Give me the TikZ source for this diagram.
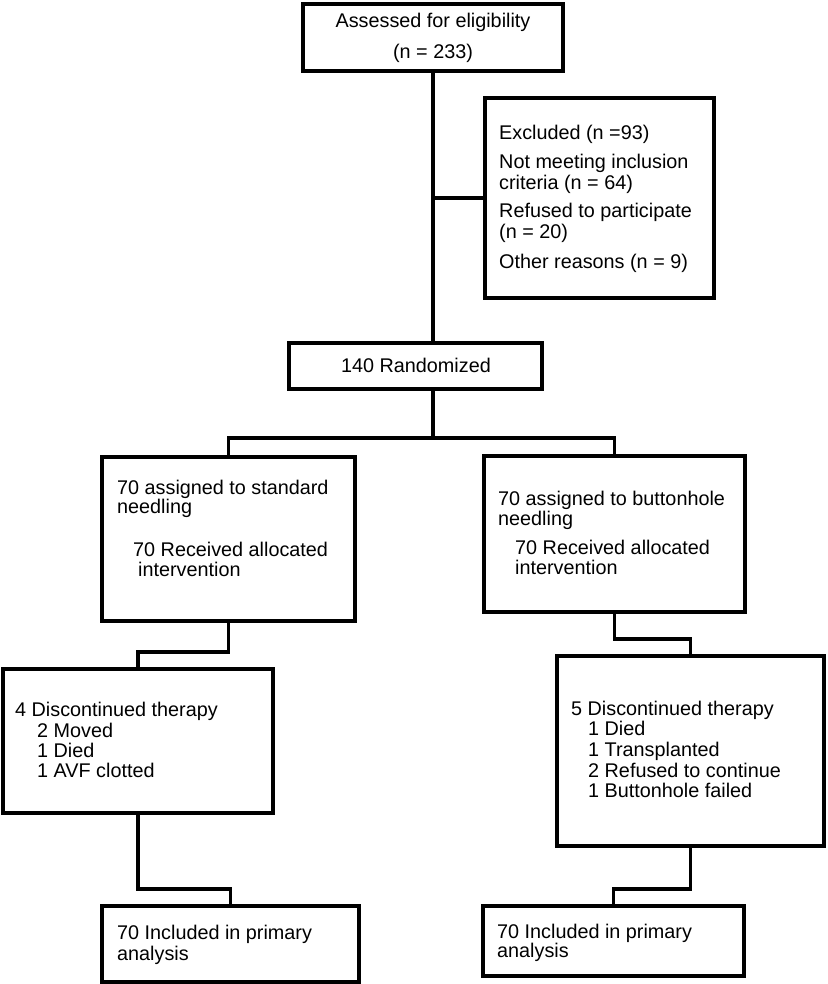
\documentclass[tikz,border=0pt]{standalone}
\usepackage{fontspec}
\setmainfont{Liberation Sans}
\begin{document}
\begin{tikzpicture}[x=1pt,y=-1pt,
  box/.style={draw=black,line width=3.5pt,rectangle,inner sep=0pt,fill=white},
  conn/.style={draw=black,line width=3.5pt},
  txt/.style={inner sep=0pt,anchor=base west,font=\fontsize{19.8}{21}\selectfont},
  ctxt/.style={inner sep=0pt,anchor=base,font=\fontsize{19.8}{21}\selectfont}]
\useasboundingbox (0,0) rectangle (827,984);
% boxes
\node[box,minimum width=260pt,minimum height=67pt] (b1) at (433,37.5) {};
\node[box,minimum width=229pt,minimum height=200pt] (ex) at (599.5,198) {};
\node[box,minimum width=253pt,minimum height=46pt] (rand) at (415.5,366) {};
\node[box,minimum width=253pt,minimum height=164pt] (L1) at (228.5,539) {};
\node[box,minimum width=261pt,minimum height=156pt] (R1) at (614.5,534) {};
\node[box,minimum width=270pt,minimum height=144pt] (L2) at (138,741) {};
\node[box,minimum width=267pt,minimum height=190pt] (R2) at (690.5,751) {};
\node[box,minimum width=257pt,minimum height=76pt] (L3) at (230.5,944) {};
\node[box,minimum width=261pt,minimum height=70pt] (R3) at (613.5,941) {};
% connectors
\coordinate (split) at (433,438);
\draw[conn] (b1.south) -- (rand.north -| b1.south);
\draw[conn] (ex.west) -- (ex.west -| b1.south);
\draw[conn] (rand.south -| b1.south) -- (split);
\draw[conn] (L1.north) |- (split) -| (R1.north);
\draw[conn] (L1.south) -- ++(0,29) -| (L2.north);
\draw[conn] (R1.south) -- ++(0,25) -| (R2.north);
\draw[conn] (L2.south) -- ++(0,74) -| (L3.north);
\draw[conn] (R2.south) -- ++(0,41) -| (R3.north);
% texts
\node[ctxt] (t1) at (433,28) {Assessed for eligibility};
\node[ctxt] (t2) at (433,59) {(n = 233)};
\node[txt] (e1) at (499,140) {Excluded (n =93)};
\node[txt] (e2) at (499,169) {Not meeting inclusion};
\node[txt] (e3) at (499,190) {criteria (n = 64)};
\node[txt] (e4) at (499,218) {Refused to participate};
\node[txt] (e5) at (499,239) {(n = 20)};
\node[txt] (e6) at (499,268) {Other reasons (n = 9)};
\node[ctxt] (r1) at (416,372) {140 Randomized};
\node[txt] (l1a) at (117,494) {70 assigned to standard};
\node[txt] (l1b) at (117,513) {needling};
\node[txt] (l1c) at (133,556) {70 Received allocated};
\node[txt] (l1d) at (138,576) {intervention};
\node[txt] (r1a) at (498,505) {70 assigned to buttonhole};
\node[txt] (r1b) at (498,525) {needling};
\node[txt] (r1c) at (515,554) {70 Received allocated};
\node[txt] (r1d) at (515,574) {intervention};
\node[txt] (l2a) at (15,716) {4 Discontinued therapy};
\node[txt] (l2b) at (37,737) {2 Moved};
\node[txt] (l2c) at (37,757) {1 Died};
\node[txt] (l2d) at (37,777) {1 AVF clotted};
\node[txt] (r2a) at (571,715) {5 Discontinued therapy};
\node[txt] (r2b) at (588,735) {1 Died};
\node[txt] (r2c) at (588,756) {1 Transplanted};
\node[txt] (r2d) at (588,777) {2 Refused to continue};
\node[txt] (r2e) at (588,797) {1 Buttonhole failed};
\node[txt] (l3a) at (117,939) {70 Included in primary};
\node[txt] (l3b) at (117,960) {analysis};
\node[txt] (r3a) at (497,938) {70 Included in primary};
\node[txt] (r3b) at (497,957) {analysis};
\end{tikzpicture}
\end{document}
